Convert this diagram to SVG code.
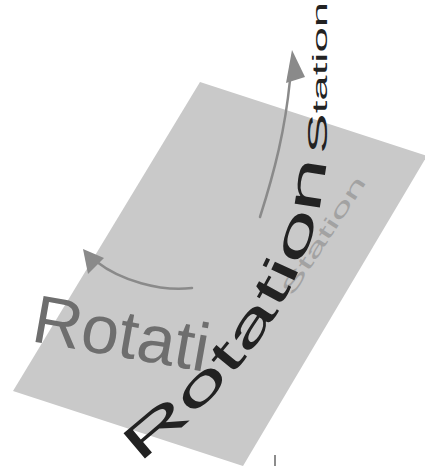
<svg xmlns="http://www.w3.org/2000/svg" xmlns:xlink="http://www.w3.org/1999/xlink" width="425" height="472" viewBox="0 0 425 472">
  <style>
    .sans { font-family: "Liberation Sans", Arial, sans-serif; }
    .arrow { fill: none; stroke: #8a8a8a; stroke-width: 2.5; stroke-linecap: round; }
    .head { fill: #8a8a8a; }
  </style>
  <defs>
    <path id="curve" d="M138,463 C215,405 290,320 316,222 C322,198 327,170 327,140 L327,0"/>
  </defs>
  <rect width="425" height="472" fill="#ffffff"/>
  <g id="plane">
    <polygon points="200,82 427,156 243,466 13,391" fill="#c9c9c9"/>
  </g>
  <g id="connectors">
    <path class="arrow" d="M260,217 C275,170 285,130 290,80"/>
    <polygon class="head" points="292,50 286,83 305,77"/>
    <path class="arrow" d="M192,288 C160,292 120,280 97,262"/>
    <polygon class="head" points="83,249 88,274 104,258"/>
    <line x1="275" y1="455" x2="275" y2="466" stroke="#666" stroke-width="1.5"/>
  </g>
  <g id="label-rotati">
    <text class="sans" transform="translate(30,341) rotate(10)" font-size="68" fill="#6e6e6e">Rotati</text>
  </g>
  <g id="label-station-small">
    <text class="sans" transform="translate(292,297) rotate(-57) scale(2.1,1)" font-size="21" fill="#a2a2a2">Station</text>
  </g>
  <g id="label-rotation">
    <text class="sans" font-size="48" fill="#222222"><textPath xlink:href="#curve" href="#curve" textLength="368" lengthAdjust="spacingAndGlyphs">Rotation</textPath></text>
  </g>
  <g id="label-station">
    <text class="sans" fill="#222222"><textPath xlink:href="#curve" href="#curve" startOffset="374" textLength="152" lengthAdjust="spacingAndGlyphs"><tspan font-size="28">S</tspan><tspan font-size="21">tation</tspan></textPath></text>
  </g>
</svg>
